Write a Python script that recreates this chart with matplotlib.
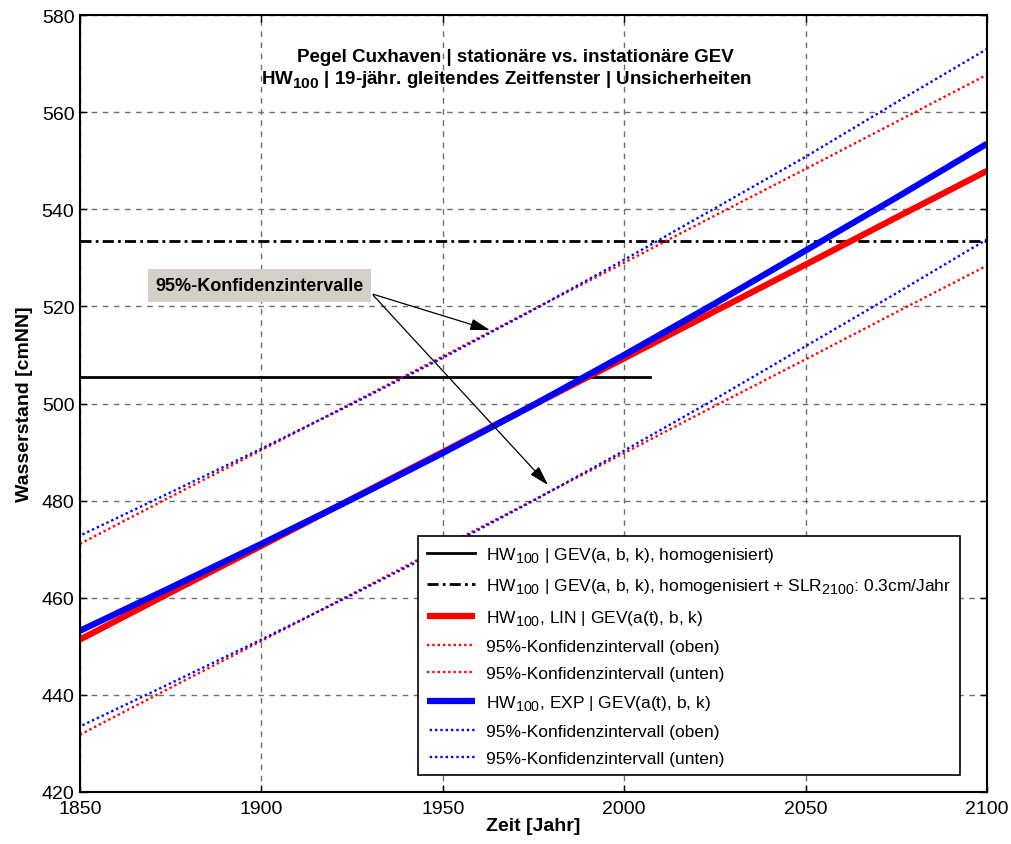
import matplotlib
matplotlib.use("Agg")
import matplotlib.pyplot as plt
import matplotlib._mathtext as mt

plt.rcParams['font.family'] = ['Liberation Sans', 'DejaVu Sans']
plt.rcParams['mathtext.fontset'] = 'custom'
plt.rcParams['mathtext.rm'] = 'Liberation Sans'
plt.rcParams['mathtext.bf'] = 'Liberation Sans:bold'
plt.rcParams['mathtext.default'] = 'regular'
# larger, lower subscripts for the HW_100 / SLR_2100 labels
mt.SHRINK_FACTOR = 0.82
mt.FontConstantsBase.sub1 = 0.42
mt.FontConstantsBase.sub2 = 0.55

# Jahre der Stuetzstellen
years = [1850, 1875, 1900, 1925, 1950, 1975, 2000, 2025, 2050, 2075, 2100]

# HW100 instationaer, linearer Trend (cmNN)
lin_mid = [451.4, 461.1, 470.7, 480.4, 490.0, 499.7, 509.3, 519.0, 528.6, 538.3, 547.9]
lin_up = [471.1, 480.8, 490.4, 500.1, 509.7, 519.4, 529.0, 538.7, 548.3, 558.0, 567.7]
lin_lo = [431.8, 441.5, 451.1, 460.8, 470.5, 480.1, 489.8, 499.5, 509.1, 518.8, 528.4]

# HW100 instationaer, exponentieller Trend (cmNN)
exp_mid = [453.2, 462.1, 471.1, 480.3, 489.8, 499.7, 510.0, 520.6, 531.5, 542.4, 553.5]
exp_up = [472.8, 481.7, 490.7, 499.9, 509.4, 519.3, 529.6, 540.2, 550.8, 562.0, 573.0]
exp_lo = [433.5, 442.4, 451.4, 460.6, 470.1, 480.0, 490.3, 500.9, 511.8, 522.7, 533.8]

# stationaeres HW100 (homogenisiert) und Zuschlag Meeresspiegelanstieg
stat_years = [1850, 2007]
stat_value = 505.5
slr_rate = 0.3  # cm/Jahr bis 2100
slr_value = stat_value + slr_rate * (2100 - stat_years[-1])

fig = plt.figure(figsize=(10.11, 8.45), dpi=100)
ax = fig.add_axes([80 / 1011, (845 - 793) / 845, (987 - 80) / 1011, (793 - 16) / 845])

dot = (0, (1, 1.25))
h1, = ax.plot(stat_years, [stat_value] * 2, color='black', lw=2.0,
              label='HW$_{100}$ | GEV(a, b, k), homogenisiert)')
h2, = ax.plot([1850, 2100], [slr_value] * 2, color='black', lw=2.0,
              linestyle=(0, (4, 1.5, 1, 1.5)),
              label='HW$_{100}$ | GEV(a, b, k), homogenisiert + SLR$_{2100}$: 0.3cm/Jahr')
h3, = ax.plot(years, lin_mid, color='#ff0000', lw=4.5, solid_capstyle='butt',
              label='HW$_{100}$, LIN | GEV(a(t), b, k)')
h4, = ax.plot(years, lin_up, color='#ff0000', lw=1.7, linestyle=dot,
              label='95%-Konfidenzintervall (oben)')
h5, = ax.plot(years, lin_lo, color='#ff0000', lw=1.7, linestyle=dot,
              label='95%-Konfidenzintervall (unten)')
h6, = ax.plot(years, exp_mid, color='#0000ff', lw=4.5, solid_capstyle='butt',
              label='HW$_{100}$, EXP | GEV(a(t), b, k)')
h7, = ax.plot(years, exp_up, color='#0000ff', lw=1.7, linestyle=(1.1, (1, 1.25)),
              label='95%-Konfidenzintervall (oben)')
h8, = ax.plot(years, exp_lo, color='#0000ff', lw=1.7, linestyle=(1.1, (1, 1.25)),
              label='95%-Konfidenzintervall (unten)')

ax.set_xlim(1850, 2100)
ax.set_ylim(420, 580)
ax.set_xticks(range(1850, 2101, 50))
ax.set_yticks(range(420, 581, 20))
ax.grid(True, color='#6e6e6e', linestyle=(0, (4, 4)), lw=1.0)
ax.tick_params(direction='in', length=5, width=1, top=True, right=True,
               labelsize=14, colors='black')
ax.tick_params(axis='x', pad=6)
ax.tick_params(axis='y', pad=4)
for s in ax.spines.values():
    s.set_linewidth(1.5)

ax.set_xlabel('Zeit [Jahr]', fontsize=14, fontweight='bold', labelpad=0)
ax.set_ylabel('Wasserstand [cmNN]', fontsize=14, fontweight='bold', labelpad=6)

ax.text(0.480, 0.946, 'Pegel Cuxhaven | stationäre vs. instationäre GEV',
        transform=ax.transAxes, ha='center', va='center',
        fontsize=13.5, fontweight='bold')
ax.text(0.470, 0.917, 'HW$_{100}$ | 19-jähr. gleitendes Zeitfenster | Unsicherheiten',
        transform=ax.transAxes, ha='center', va='center',
        fontsize=13.5, fontweight='bold')

# Beschriftung der Konfidenzintervalle mit Pfeilen
arrow_kw = dict(arrowstyle='-|>,head_length=1.2,head_width=0.35', color='black',
                lw=0.9, shrinkA=0, shrinkB=0)
ax.annotate('', xy=(1963, 515.1), xytext=(1930.8, 522.5), arrowprops=arrow_kw)
ax.annotate('', xy=(1979, 483.2), xytext=(1930.8, 522.3), arrowprops=arrow_kw)
ax.text(1899.5, 524.3, '95%-Konfidenzintervalle', ha='center', va='center',
        fontsize=13, fontweight='bold',
        bbox=dict(boxstyle='square,pad=0.42', facecolor='#d4d0c8', edgecolor='none'))

leg = ax.legend(handles=[h1, h2, h3, h4, h5, h6, h7, h8],
                loc='upper left', bbox_to_anchor=(0.3727, 0.329),
                fontsize=12.5, frameon=True, fancybox=False, framealpha=1,
                edgecolor='black', handlelength=2.8, handletextpad=0.6,
                labelspacing=0.67, borderpad=0.5, borderaxespad=0)
leg.get_frame().set_linewidth(1.2)

fig.savefig('out.png', dpi=100)
